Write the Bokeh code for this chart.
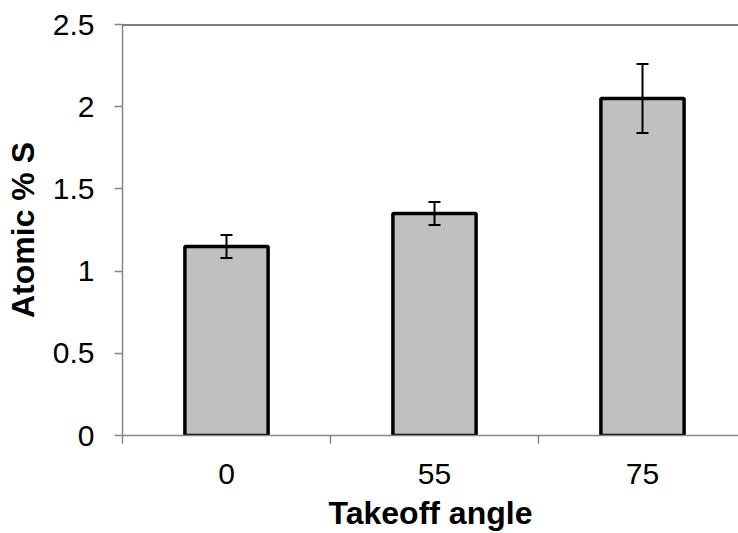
from bokeh.plotting import figure
from bokeh.models import (Range1d, FixedTicker, NumeralTickFormatter, Span, Whisker,
                          TeeHead, ColumnDataSource)
from bokeh.embed import file_html
from bokeh.resources import INLINE

# Data
angles = ["0", "55", "75"]
atomic_s = [1.15, 1.35, 2.05]
errors = [0.07, 0.07, 0.21]
y_ticks = [0, 0.5, 1, 1.5, 2, 2.5]

xpos = [i + 0.5 for i in range(len(angles))]
src = ColumnDataSource(dict(
    x=xpos, top=atomic_s,
    upper=[v + e for v, e in zip(atomic_s, errors)],
    lower=[v - e for v, e in zip(atomic_s, errors)],
))

FONT = "Liberation Sans"

p = figure(width=738, height=533, output_backend="svg", toolbar_location=None,
           x_range=Range1d(0, 2.9615), y_range=Range1d(0, 2.5),
           min_border_left=122, min_border_right=0, min_border_top=24,
           min_border_bottom=0)
p.outline_line_color = None
p.xgrid.visible = False
p.ygrid.visible = False
p.background_fill_color = "white"
p.border_fill_color = "white"

p.vbar(x="x", top="top", width=0.4, bottom=0, source=src,
       fill_color="#c0c0c0", line_color="black", line_width=3.5)

w = Whisker(base="x", upper="upper", lower="lower", source=src,
            line_color="black", line_width=2, level="overlay",
            upper_head=TeeHead(size=12, line_color="black", line_width=2),
            lower_head=TeeHead(size=12, line_color="black", line_width=2))
p.add_layout(w)

p.add_layout(Span(location=2.5, dimension="width", line_color="black", line_width=2))

GRAY = "#868686"
xa = p.xaxis[0]
xa.ticker = FixedTicker(ticks=xpos, minor_ticks=list(range(len(angles) + 1)))
xa.major_label_overrides = {x: a for x, a in zip(xpos, angles)}
xa.axis_line_color = GRAY
xa.axis_line_width = 1.5
xa.major_tick_out = 0
xa.major_tick_in = 0
xa.minor_tick_out = 8
xa.minor_tick_in = 0
xa.minor_tick_line_color = GRAY
xa.minor_tick_line_width = 1.5
xa.major_label_standoff = 20
xa.major_label_text_font = FONT
xa.major_label_text_font_size = "30px"
xa.major_label_text_color = "black"
xa.axis_label = "Takeoff angle"
xa.axis_label_text_font = FONT
xa.axis_label_text_font_size = "32px"
xa.axis_label_text_font_style = "bold"
xa.axis_label_text_color = "black"
xa.axis_label_standoff = 8

ya = p.yaxis[0]
ya.ticker = FixedTicker(ticks=y_ticks, minor_ticks=[])
ya.formatter = NumeralTickFormatter(format="0.[0]")
ya.axis_line_color = GRAY
ya.axis_line_width = 1.5
ya.major_tick_out = 8
ya.major_tick_in = 0
ya.major_tick_line_color = GRAY
ya.major_tick_line_width = 1.5
ya.major_label_standoff = 20
ya.major_label_text_font = FONT
ya.major_label_text_font_size = "30px"
ya.major_label_text_color = "black"
ya.axis_label = "Atomic % S"
ya.axis_label_text_font = FONT
ya.axis_label_text_font_size = "32px"
ya.axis_label_text_font_style = "bold"
ya.axis_label_text_color = "black"
ya.axis_label_standoff = 9

open("out.html", "w").write(file_html(p, INLINE))
